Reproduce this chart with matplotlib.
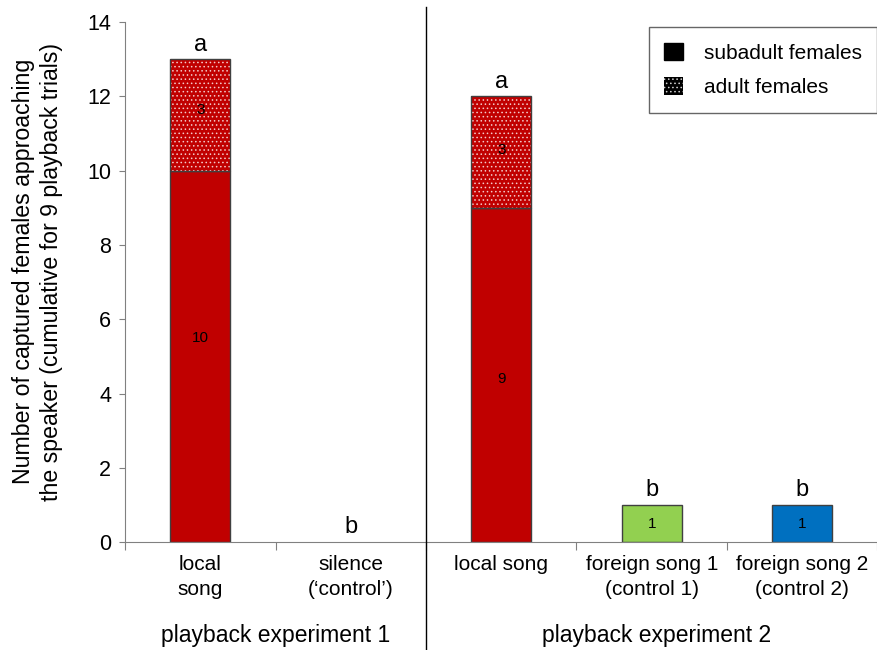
import matplotlib.pyplot as plt
import matplotlib.transforms as mtransforms
from matplotlib.patches import Patch
from matplotlib.lines import Line2D

plt.rcParams['font.family'] = ['Liberation Sans', 'DejaVu Sans']
plt.rcParams['hatch.linewidth'] = 0.6

categories = ["local\nsong", "silence\n(\u2018control\u2019)", "local song",
              "foreign song 1\n(control 1)", "foreign song 2\n(control 2)"]
subadult = [10, 0, 9, 1, 1]
adult = [3, 0, 3, 0, 0]
letters = ["a", "b", "a", "b", "b"]
bar_colors = ["#C00000", "#C00000", "#C00000", "#92D050", "#0070C0"]
groups = ["playback experiment 1", "playback experiment 2"]

# small pixel nudges of the in-bar count labels (as placed in the original)
sub_nudge = [18, 0, -4, 0, 0]
adult_nudge = [5, 0, 2, 0, 0]

fig = plt.figure(figsize=(8.78, 6.5), dpi=100)
ax = fig.add_axes([0.1424, 0.166, 0.857, 0.800])

x = list(range(len(categories)))
w = 0.4
for i in x:
    if subadult[i] > 0:
        ax.bar(i, subadult[i], w, color=bar_colors[i], edgecolor="#404040", linewidth=1)
        ax.annotate(str(subadult[i]), (i, subadult[i] / 2), xytext=(0, sub_nudge[i]),
                    textcoords="offset pixels", ha="center", va="center", fontsize=11)
    if adult[i] > 0:
        ax.bar(i, adult[i], w, bottom=subadult[i], color=bar_colors[i], edgecolor="#F2C8C8",
               hatch="....", linewidth=0)
        ax.bar(i, adult[i], w, bottom=subadult[i], fill=False, edgecolor="#404040", linewidth=1)
        ax.annotate(str(adult[i]), (i, subadult[i] + adult[i] / 2), xytext=(0, adult_nudge[i]),
                    textcoords="offset pixels", ha="center", va="center", fontsize=11)
    top = subadult[i] + adult[i]
    ax.text(i, top + 0.1, letters[i], ha="center", va="bottom", fontsize=17)

ax.set_xlim(-0.5, 4.5)
ax.set_ylim(0, 14)
ax.set_yticks(range(0, 15, 2))
ax.tick_params(axis="y", labelsize=15.5, length=4, color="#808080", pad=6)
ax.set_xticks([i - 0.5 for i in range(6)])
ax.set_xticklabels([])
ax.tick_params(axis="x", which="major", length=6, color="#808080")
ax.set_xticks(x, minor=True)
ax.set_xticklabels(categories, minor=True, fontsize=15, linespacing=1.45)
ax.tick_params(axis="x", which="minor", length=0, pad=9)
ax.spines["top"].set_visible(False)
ax.spines["right"].set_visible(False)
ax.spines["left"].set_color("#808080")
ax.spines["bottom"].set_color("#808080")
ax.set_ylabel("Number of captured females approaching\nthe speaker (cumulative for 9 playback trials)",
              fontsize=16.7, linespacing=1.3)
ax.yaxis.set_label_coords(-0.082, 0.52)

# separator between the two experiments
trans = mtransforms.blended_transform_factory(ax.transData, fig.transFigure)
fig.add_artist(Line2D([1.5, 1.5], [0.0, 0.99], transform=trans, color="black", linewidth=1))
ax.text(0.5, 0.023, groups[0], transform=trans, ha="center", va="center", fontsize=16.5)
ax.text(3.03, 0.023, groups[1], transform=trans, ha="center", va="center", fontsize=16.5)

handles = [Patch(facecolor="black", edgecolor="black"),
           Patch(facecolor="black", edgecolor="#D0D0D0", hatch="....", linewidth=0)]
leg = ax.legend(handles, ["subadult females", "adult females"], loc="upper right",
                bbox_to_anchor=(1.0, 0.99), fontsize=15, frameon=True, fancybox=False,
                edgecolor="#404040", handlelength=0.9, handleheight=0.9, borderpad=0.75,
                labelspacing=0.7, handletextpad=1.0, borderaxespad=0.0)
leg.get_frame().set_linewidth(1)

fig.savefig("out.png", dpi=100)
